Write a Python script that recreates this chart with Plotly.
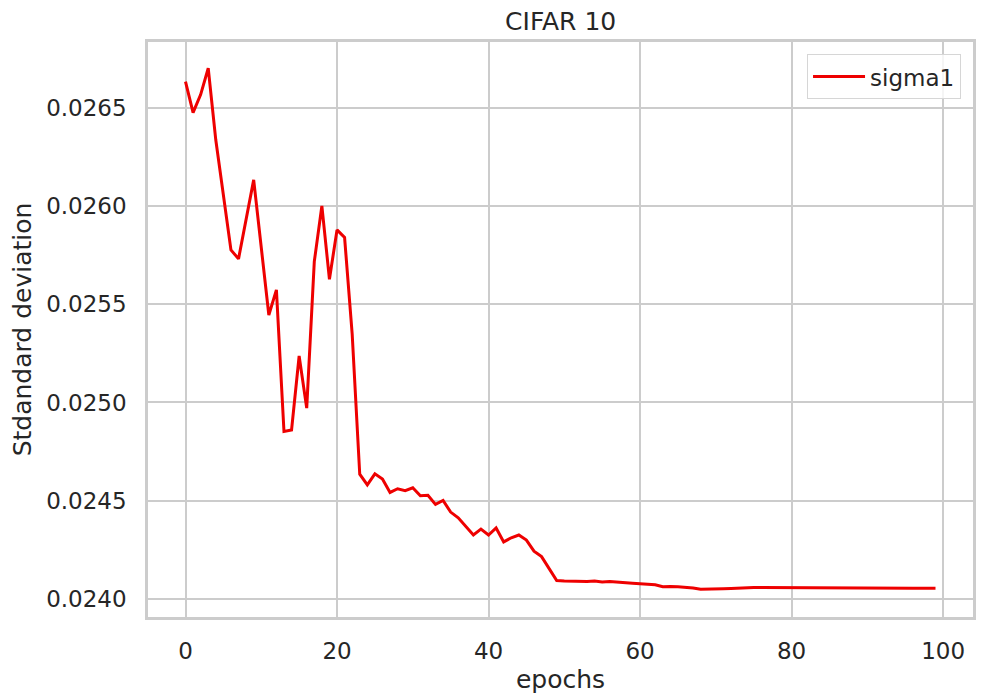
import plotly.graph_objects as go

epochs = list(range(100))
sigma1 = [
    0.026636, 0.026478, 0.026570, 0.026704, 0.026338, 0.026070, 0.025778, 0.025732, 0.025924, 0.026135,
    0.025790, 0.025446, 0.025574, 0.024852, 0.024860, 0.025237, 0.024971, 0.025718, 0.026002, 0.025628,
    0.025880, 0.025841, 0.025350, 0.024634, 0.024580, 0.024636, 0.024610, 0.024541, 0.024560, 0.024550,
    0.024565, 0.024524, 0.024527, 0.024480, 0.024500, 0.024441, 0.024412, 0.024367, 0.024324, 0.024354,
    0.024324, 0.024360, 0.024289, 0.024310, 0.024324, 0.024298, 0.024242, 0.024214, 0.024150, 0.024092,
    0.024089, 0.024088, 0.024089, 0.024087, 0.024089, 0.024085, 0.024087, 0.024083, 0.024081, 0.024078,
    0.024075, 0.024074, 0.024070, 0.024060, 0.024062, 0.024060, 0.024057, 0.024054, 0.024047, 0.024049,
    0.024050, 0.024050, 0.024051, 0.024053, 0.024056, 0.024056, 0.024056, 0.024056, 0.024056, 0.024056,
    0.024056, 0.024056, 0.024056, 0.024056, 0.024056, 0.024056, 0.024056, 0.024056, 0.024055, 0.024055,
    0.024054, 0.024054, 0.024054, 0.024053, 0.024053, 0.024053, 0.024053, 0.024052, 0.024052, 0.024052,
]

title_text = "CIFAR 10"
x_label = "epochs"
y_label = "Stdandard deviation"
series_name = "sigma1"

TXT = "#262626"
GRID = "#cccccc"
FONT = "DejaVu Sans"

fig = go.Figure()
fig.add_trace(go.Scatter(x=epochs, y=sigma1, mode="lines", name=series_name,
                         line=dict(color="#ee0000", width=3)))

fig.update_layout(
    width=981, height=694,
    margin=dict(l=148, r=8, t=42, b=77, autoexpand=False),
    paper_bgcolor="white", plot_bgcolor="white",
    font=dict(family=FONT, size=23, color=TXT),
    title=dict(text=title_text, x=0.5715, xanchor="center", y=0.97, yanchor="middle",
               font=dict(family=FONT, size=25, color=TXT)),
    showlegend=True,
    legend=dict(x=0.9855, y=0.979, xanchor="right", yanchor="top", itemwidth=52,
                bgcolor="rgba(255,255,255,0.8)", bordercolor="#d6d6d6", borderwidth=1,
                font=dict(family=FONT, size=23, color=TXT)),
)
fig.update_xaxes(range=[-4.95, 103.95], tick0=0, dtick=20, showgrid=True, gridcolor=GRID, gridwidth=2,
                 zeroline=False, showline=True, linecolor=GRID, linewidth=2.5, mirror=True,
                 ticks="", ticklabelstandoff=12, automargin=False,
                 title=dict(text=x_label, font=dict(family=FONT, size=25, color=TXT), standoff=8))
fig.update_yaxes(range=[0.023906, 0.026838], tick0=0.024, dtick=0.0005, tickformat=".4f",
                 showgrid=True, gridcolor=GRID, gridwidth=2,
                 zeroline=False, showline=True, linecolor=GRID, linewidth=2.5, mirror=True,
                 ticks="", ticklabelstandoff=14, automargin=False,
                 title=dict(text=y_label, font=dict(family=FONT, size=25, color=TXT), standoff=8))

fig.write_html("out.html")
